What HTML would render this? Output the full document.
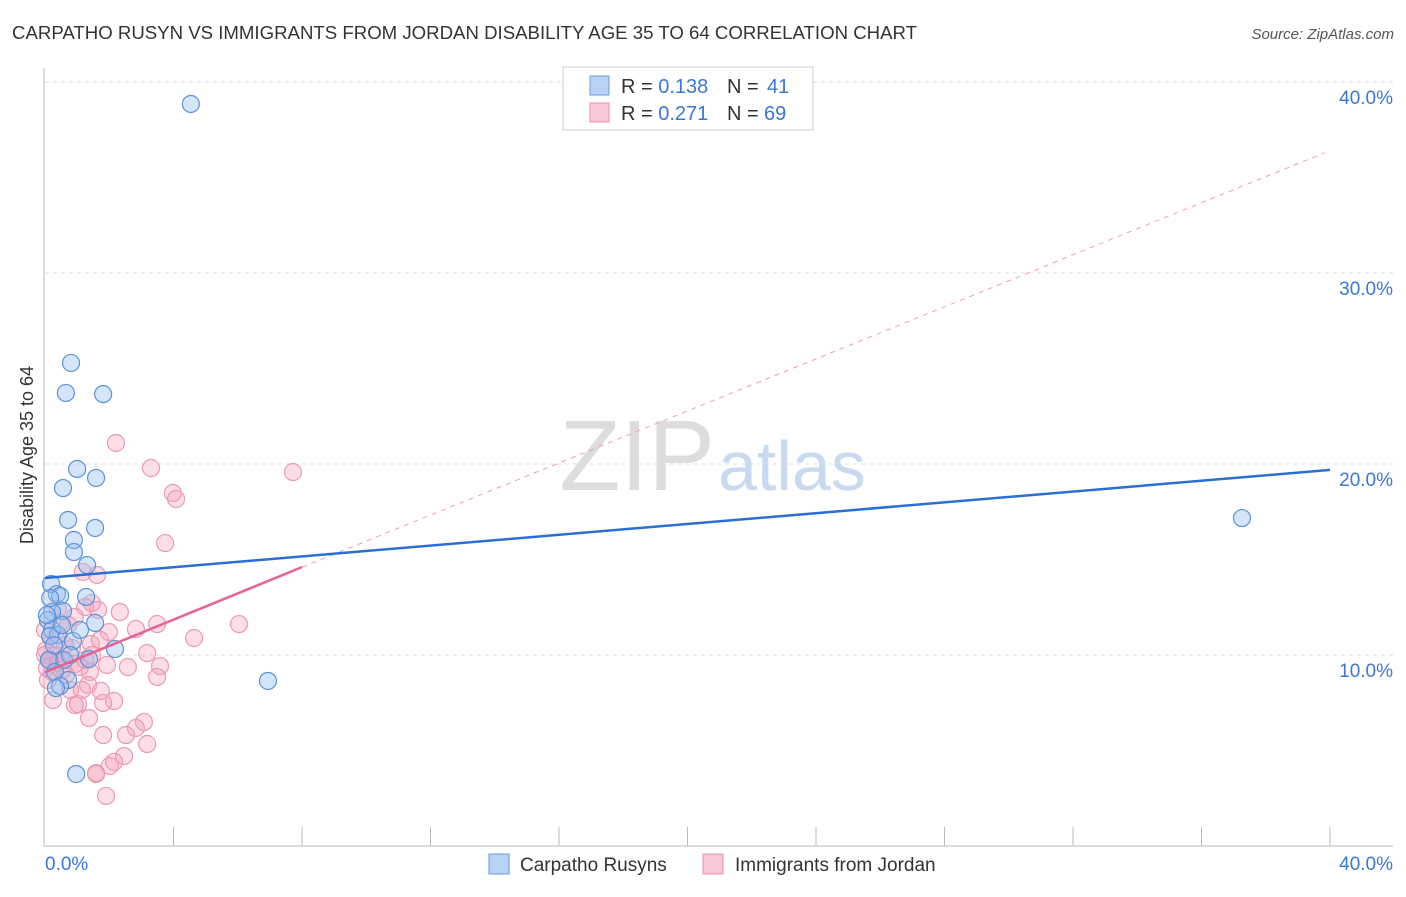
<!DOCTYPE html>
<html><head><meta charset="utf-8"><style>
body{margin:0;background:#fff;font-family:"Liberation Sans",sans-serif;}
svg text{font-family:"Liberation Sans",sans-serif;}
</style></head><body>
<svg width="1406" height="892">
<text x="12" y="39" font-size="18" fill="#333" textLength="905" lengthAdjust="spacingAndGlyphs">CARPATHO RUSYN VS IMMIGRANTS FROM JORDAN DISABILITY AGE 35 TO 64 CORRELATION CHART</text>
<text x="1394" y="39" font-size="15" fill="#555" font-style="italic" text-anchor="end">Source: ZipAtlas.com</text>
<g id="grid"></g>
<g id="axes"></g>
<text x="715" y="490" font-size="100" fill="#ddd" text-anchor="end" font-family="Liberation Serif">ZIP</text>
<text x="718" y="490" font-size="70" fill="#c8daf0">atlas</text>
<g id="pts"></g>
<g id="lines"></g>
<text transform="translate(33,455) rotate(-90)" font-size="18" fill="#333" text-anchor="middle">Disability Age 35 to 64</text>
<g>
<rect x="563" y="67" width="250" height="63" fill="#fff" stroke="#ccc"/>
<rect x="590" y="76" width="19" height="19" fill="#b8d3f5" stroke="#6a9de0"/>
<rect x="590" y="103" width="19" height="19" fill="#f8c6d4" stroke="#e890aa"/>
<text x="621" y="93" font-size="20" fill="#333">R = <tspan fill="#3a78d4">0.138</tspan></text>
<text x="727" y="93" font-size="20" fill="#333">N = <tspan fill="#3a78d4" x="767">41</tspan></text>
<text x="621" y="120" font-size="20" fill="#333">R = <tspan fill="#3a78d4">0.271</tspan></text>
<text x="727" y="120" font-size="20" fill="#333">N = <tspan fill="#3a78d4" x="764">69</tspan></text>
</g>
<g>
<rect x="489" y="854" width="20" height="20" fill="#b8d3f5" stroke="#6a9de0"/>
<text x="520" y="871" font-size="19" fill="#333">Carpatho Rusyns</text>
<rect x="703" y="854" width="20" height="20" fill="#f8c6d4" stroke="#e890aa"/>
<text x="735" y="871" font-size="19" fill="#333">Immigrants from Jordan</text>
</g>
</svg>
<script>
const blueX=[4.54,.81,.65,1.81,1.0,.56,1.59,.72,1.56,.9,.9,1.31,.19,.37,.47,1.28,.56,.22,.09,1.56,.22,.4,.16,.87,2.18,1.37,.59,.12,.31,.72,.47,.34,6.94,37.26,.97,.16,.06,.53,1.09,.28,.78];
const blueY=[38.85,25.29,23.72,23.66,19.74,18.74,19.27,17.07,16.65,16.02,15.39,14.71,13.72,13.19,13.09,13.04,12.30,12.25,11.83,11.68,11.31,11.05,10.99,10.73,10.31,9.79,9.74,9.74,9.11,8.69,8.38,8.27,8.64,17.17,3.77,12.98,12.09,11.57,11.31,10.52,10.0];
const pinkX=[2.21,3.30,7.72,3.98,4.08,3.74,1.18,1.62,1.25,1.65,1.46,.4,.47,.93,.72,1.99,2.83,3.49,6.04,4.64,1.43,.84,.03,.31,3.18,.5,1.93,2.58,3.58,3.49,1.09,1.4,.22,.09,.53,.93,.65,1.34,1.74,2.15,.93,1.03,1.37,1.81,1.81,2.52,3.08,2.83,3.18,2.46,2.15,2.02,1.59,1.59,1.9,.16,.37,0,.78,1.25,.25,.62,1.71,2.33,0,1.15,.4,.06,1.46];
const pinkY=[21.1,19.79,19.58,18.48,18.17,15.86,14.35,14.19,12.51,12.36,12.72,12.41,11.68,11.99,11.57,11.2,11.36,11.62,11.62,10.89,10.58,10.37,10.26,10.0,10.1,9.74,9.48,9.37,9.42,8.85,9.37,9.11,9.11,8.69,9.21,9.53,8.95,8.43,8.12,7.59,7.38,7.43,6.7,7.49,5.81,5.81,6.49,6.18,5.34,4.71,4.4,4.19,3.77,3.82,2.62,9.74,10.79,10.0,8.17,9.74,7.64,10.52,10.79,12.25,11.31,8.17,9.58,9.32,10.0];
const yTicks=[10,20,30,40];
const yTickLabels=["10.0%","20.0%","30.0%","40.0%"];
const blueTrend=[14.03,19.69];
const pinkTrend=[9.1,14.6,36.3];
const NS="http://www.w3.org/2000/svg";
const X=v=>45+v/40*1285, Y=v=>846-v*19.1;
function mk(tag,a,p){const e=document.createElementNS(NS,tag);for(const k in a)e.setAttribute(k,a[k]);p.appendChild(e);return e;}
const grid=document.getElementById('grid'),axes=document.getElementById('axes');
yTicks.forEach((t,i)=>{
 const l=mk('line',{x1:45,x2:1393,y1:Y(t),y2:Y(t),stroke:'#ddd','stroke-dasharray':'4,4'},grid);
 
 
 const tx=mk('text',{x:1393,y:Y(t)+22,'font-size':19,fill:'#3a78d4','text-anchor':'end'},axes);
 tx.textContent=yTickLabels[i];
 
 
});
mk('line',{x1:44,x2:44,y1:68,y2:846,stroke:'#bbb'},axes);
mk('line',{x1:44,x2:1393,y1:846,y2:846,stroke:'#bbb'},axes);
for(let i=1;i<=10;i++){const x=X(i*4);mk('line',{x1:x,x2:x,y1:827,y2:846,stroke:'#bbb'},axes);}
const t0=mk('text',{x:45,y:870,'font-size':19,fill:'#3a78d4'},axes);t0.textContent="0.0%";


const t1=mk('text',{x:1393,y:870,'font-size':19,fill:'#3a78d4','text-anchor':'end'},axes);t1.textContent="40.0%";


const pts=document.getElementById('pts');
pinkX.forEach((v,i)=>{const c=mk('circle',{cx:X(v),cy:Y(pinkY[i]),r:8.5,fill:'rgba(244,160,185,0.35)',stroke:'#eb9ab3','stroke-width':1.2},pts);
 
 });
blueX.forEach((v,i)=>{const c=mk('circle',{cx:X(v),cy:Y(blueY[i]),r:8.5,fill:'rgba(150,190,240,0.4)',stroke:'#5b93dc','stroke-width':1.2},pts);
 
 });
const lines=document.getElementById('lines');
const pd=mk('line',{x1:X(8),y1:Y(pinkTrend[1]),x2:X(40)-5,y2:Y(pinkTrend[2]),stroke:'#eba0b8','stroke-dasharray':'5,5','stroke-width':1},lines);


const pl=mk('line',{x1:X(0),y1:Y(pinkTrend[0]),x2:X(8),y2:Y(pinkTrend[1]),stroke:'#e8638e','stroke-width':2.5},lines);


const bl=mk('line',{x1:X(0),y1:Y(blueTrend[0]),x2:X(40),y2:Y(blueTrend[1]),stroke:'#2a6fd6','stroke-width':2.5},lines);


</script>
</body></html>
